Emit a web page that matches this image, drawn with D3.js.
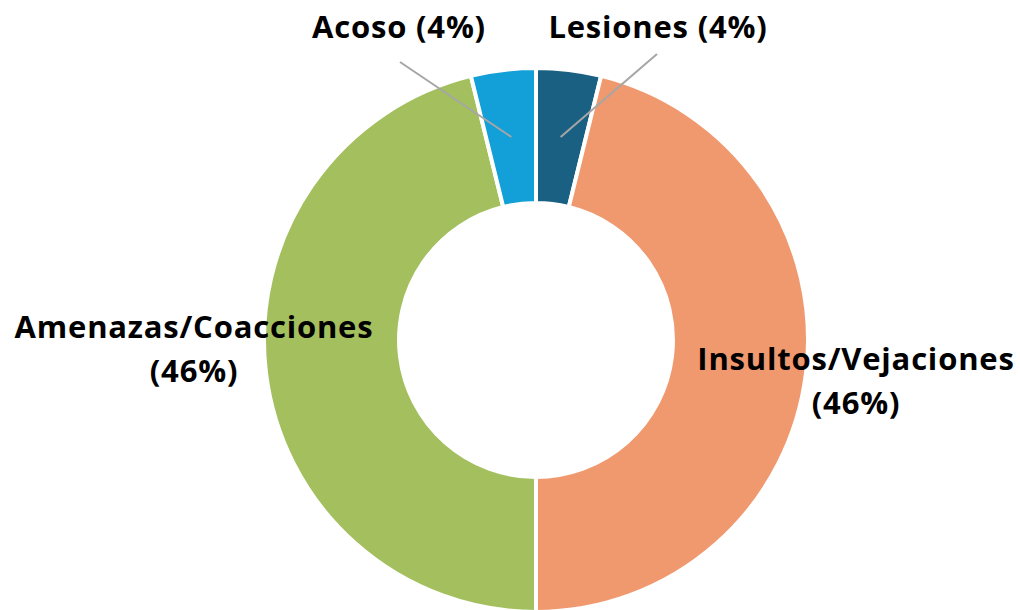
<!DOCTYPE html>
<html>
<head>
<meta charset="utf-8">
<script src="https://cdn.jsdelivr.net/npm/d3@7"></script>
<style>
  body { margin: 0; background: #fff; }
  .lbl { font-family: "Open Sans", sans-serif; font-weight: bold; font-size: 31px; letter-spacing: 0.8px; fill: #000; }
</style>
</head>
<body>
<div id="chart"></div>
<script>
// data (counts out of 26 -> 4%, 46%, 46%, 4%)
var categories = ["Lesiones", "Insultos/Vejaciones", "Amenazas/Coacciones", "Acoso"];
var values = [1, 12, 12, 1];
var colors = ["#1a6082", "#f0996e", "#a4bf5e", "#139fd7"];

var svgWidth = 1020;
var svgHeight = 610;
var cx = 536, cy = 340;
var outerR = 272, innerR = 137;

var svg = d3.select("#chart")
  .append("svg")
  .attr("width", svgWidth)
  .attr("height", svgHeight);

var g = svg.append("g")
  .attr("transform", `translate(${cx}, ${cy})`);

var total = d3.sum(values);
var pie = d3.pie().sort(null).value(d => d.value);
var arcs = pie(categories.map((c, i) => ({ name: c, value: values[i], color: colors[i] })));

var arc = d3.arc().innerRadius(innerR).outerRadius(outerR);

g.selectAll("path")
  .data(arcs)
  .enter()
  .append("path")
  .attr("d", arc)
  .attr("fill", d => d.data.color)
  .attr("stroke", "#fff")
  .attr("stroke-width", 4)
  .attr("stroke-linejoin", "miter");

function pct(d) {
  return Math.round(d.data.value / total * 100) + "%";
}

// label placement relative to center (x, y = baseline of first line)
var labelPos = {
  "Lesiones": { x: 122, y: -302, end: [121, -286], lines: 1 },
  "Insultos/Vejaciones": { x: 320, y: 30, lines: 2 },
  "Amenazas/Coacciones": { x: -342, y: -2, lines: 2 },
  "Acoso": { x: -137, y: -302, end: [-136, -278], lines: 1 }
};

// leader lines for the small slices
arcs.forEach(function(d) {
  var p = labelPos[d.data.name];
  if (!p.end) return;
  var c = arc.centroid(d);
  g.append("line")
    .attr("x1", c[0]).attr("y1", c[1])
    .attr("x2", p.end[0]).attr("y2", p.end[1])
    .attr("stroke", "#a6a6a6")
    .attr("stroke-width", 2);
});

arcs.forEach(function(d) {
  var p = labelPos[d.data.name];
  var t = g.append("text")
    .attr("class", "lbl")
    .attr("text-anchor", "middle")
    .attr("x", p.x)
    .attr("y", p.y);
  if (p.lines === 1) {
    t.text(d.data.name + " (" + pct(d) + ")");
  } else {
    t.append("tspan").attr("x", p.x).text(d.data.name);
    t.append("tspan").attr("x", p.x).attr("dy", 44).text("(" + pct(d) + ")");
  }
});
</script>
</body>
</html>
